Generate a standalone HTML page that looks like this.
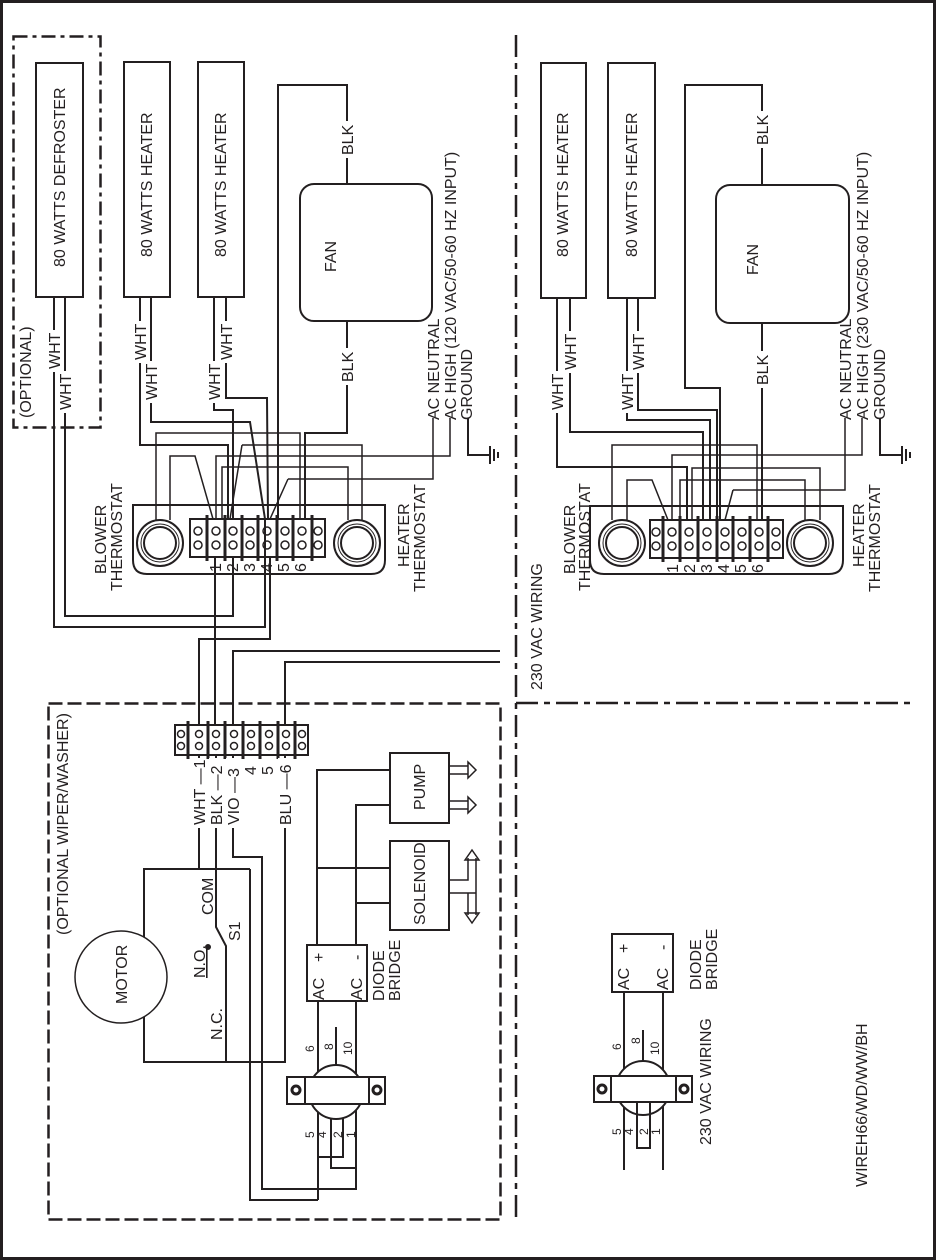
<!DOCTYPE html>
<html><head><meta charset="utf-8"><style>
html,body{margin:0;padding:0;background:#fff}
svg{display:block}
text{font-family:"Liberation Sans",Arial,sans-serif;fill:#231f20}
.l{font-size:16px}
.s{font-size:12px}
</style></head><body>
<svg width="936" height="1260" viewBox="0 0 936 1260" xmlns="http://www.w3.org/2000/svg">
<g fill="none" stroke="#231f20" stroke-width="2">
<rect x="1.5" y="1.5" width="933" height="1257" stroke-width="3"/>
<line x1="516" y1="35" x2="516" y2="1220" stroke-width="2.5" stroke-dasharray="22,6,6,6"/>
<line x1="516" y1="703" x2="914" y2="703" stroke-width="2.5" stroke-dasharray="22,6,6,6"/>
<rect x="13.5" y="36.5" width="87" height="391" stroke-width="2.5" stroke-dasharray="14,5,4,5"/>
<rect x="48.5" y="703.5" width="452" height="516" stroke-width="2.5" stroke-dasharray="14,5"/>

<rect x="36" y="63" width="47" height="234"/>
<rect x="124" y="62" width="46" height="235"/>
<rect x="198" y="62" width="46" height="235"/>
<rect x="300" y="184" width="132" height="137" rx="14"/>
<path d="M278 520 V85 H347 V184"/>
<path d="M347 321 V433 H305 V519"/>
<path d="M54 297 V627 H265 V519"/>
<path d="M65 297 V616 H233 V557"/>
<path d="M140 297 V445 H228 V519"/>
<path d="M151 297 V422 H250 L265 519"/>
<path d="M214 297 V410 H233 V519"/>
<path d="M226 297 V398 H267 L268 519"/>
<path d="M156 520 V433 H300 V519" stroke-width="1.5"/>
<path d="M170 520 V456 H195 L213 519" stroke-width="1.5"/>
<path d="M216 519 V456 H450 V418" stroke-width="1.5"/>
<path d="M242 445 H362 V520 M242 445 L230 519" stroke-width="1.5"/>
<path d="M222 519 V467 H348 V520" stroke-width="1.5"/>
<path d="M288 479 H433 V418 M288 479 L270 519" stroke-width="1.5"/>
<path d="M468 418 V455 H490 M490 446 V464 M494 449 V461 M498 452 V458"/>
<path d="M133 505 H385 V560 Q385 574 371 574 H147 Q133 574 133 560 Z"/>
<circle cx="160" cy="543" r="23"/><circle cx="160" cy="543" r="19" stroke-width="1"/><circle cx="160" cy="543" r="16"/>
<circle cx="357" cy="543" r="23"/><circle cx="357" cy="543" r="19" stroke-width="1"/><circle cx="357" cy="543" r="16"/>
<rect x="190" y="519" width="135" height="38"/>
<path d="M207 515 V561 M225 515 V561 M242 515 V561 M258 515 V561 M277 515 V561 M293 515 V561 M312 515 V561" stroke-width="3"/>
<g stroke-width="1.5"><circle cx="198" cy="531" r="4"/><circle cx="198" cy="545" r="4"/>
<circle cx="216" cy="531" r="4"/><circle cx="216" cy="545" r="4"/><circle cx="233" cy="531" r="4"/><circle cx="233" cy="545" r="4"/>
<circle cx="250" cy="531" r="4"/><circle cx="250" cy="545" r="4"/><circle cx="267" cy="531" r="4"/><circle cx="267" cy="545" r="4"/>
<circle cx="285" cy="531" r="4"/><circle cx="285" cy="545" r="4"/><circle cx="302" cy="531" r="4"/><circle cx="302" cy="545" r="4"/>
<circle cx="318" cy="531" r="4"/><circle cx="318" cy="545" r="4"/></g>
<path d="M215 557 V725"/>
<path d="M270 557 V639 H199 V725"/>
<path d="M500 651 H233 V725"/>
<path d="M500 662 H285 V725"/>

<rect x="541" y="63" width="45" height="235"/>
<rect x="608" y="63" width="47" height="235"/>
<rect x="716" y="185" width="133" height="138" rx="14"/>
<path d="M720 520 V388 H685 V85 H762 V185"/>
<path d="M762 323 V520"/>
<path d="M557 298 V467 H687 V520"/>
<path d="M570 298 V432 H703 V520"/>
<path d="M627 298 V420 H710 V520"/>
<path d="M638 298 V410 H717 V520"/>
<path d="M612 520 V445 H757 V520" stroke-width="1.5"/>
<path d="M627 520 V480 H652 L668 520" stroke-width="1.5"/>
<path d="M672 520 V455 H862 V418" stroke-width="1.5"/>
<path d="M692 520 V468 H820 V520" stroke-width="1.5"/>
<path d="M680 520 V480 H805 V520" stroke-width="1.5"/>
<path d="M733 490 H845 V418 M733 490 L725 520" stroke-width="1.5"/>
<path d="M880 418 V455 H902 M902 446 V464 M906 449 V461 M910 452 V458"/>
<path d="M590 506 H843 V560 Q843 574 829 574 H604 Q590 574 590 560 Z"/>
<circle cx="622" cy="543" r="23"/><circle cx="622" cy="543" r="19" stroke-width="1"/><circle cx="622" cy="543" r="16"/>
<circle cx="810" cy="543" r="23"/><circle cx="810" cy="543" r="19" stroke-width="1"/><circle cx="810" cy="543" r="16"/>
<rect x="650" y="520" width="133" height="38"/>
<path d="M663 516 V562 M680 516 V562 M698 516 V562 M717 516 V562 M733 516 V562 M750 516 V562 M768 516 V562" stroke-width="3"/>
<g stroke-width="1.5"><circle cx="656" cy="532" r="4"/><circle cx="656" cy="546" r="4"/>
<circle cx="672" cy="532" r="4"/><circle cx="672" cy="546" r="4"/><circle cx="689" cy="532" r="4"/><circle cx="689" cy="546" r="4"/>
<circle cx="707" cy="532" r="4"/><circle cx="707" cy="546" r="4"/><circle cx="725" cy="532" r="4"/><circle cx="725" cy="546" r="4"/>
<circle cx="742" cy="532" r="4"/><circle cx="742" cy="546" r="4"/><circle cx="759" cy="532" r="4"/><circle cx="759" cy="546" r="4"/>
<circle cx="776" cy="532" r="4"/><circle cx="776" cy="546" r="4"/></g>

<rect x="175" y="725" width="133" height="30"/>
<path d="M188 721 V759 M208 721 V759 M225 721 V759 M243 721 V759 M260 721 V759 M278 721 V759 M295 721 V759" stroke-width="3"/>
<g stroke-width="1.5"><circle cx="181" cy="734" r="3.5"/><circle cx="181" cy="746" r="3.5"/>
<circle cx="199" cy="734" r="3.5"/><circle cx="199" cy="746" r="3.5"/><circle cx="216" cy="734" r="3.5"/><circle cx="216" cy="746" r="3.5"/>
<circle cx="234" cy="734" r="3.5"/><circle cx="234" cy="746" r="3.5"/><circle cx="251" cy="734" r="3.5"/><circle cx="251" cy="746" r="3.5"/>
<circle cx="269" cy="734" r="3.5"/><circle cx="269" cy="746" r="3.5"/><circle cx="286" cy="734" r="3.5"/><circle cx="286" cy="746" r="3.5"/>
<circle cx="302" cy="734" r="3.5"/><circle cx="302" cy="746" r="3.5"/></g>
<path d="M199 755 V869 H144 V1062 H285 V755"/>
<path d="M199 869 H250"/>
<path d="M216 755 V927 L226 946 V1062" />
<circle cx="208" cy="947" r="2" fill="#231f20"/>
<path d="M233 755 V857 H262 V1189 H356 V1105"/>
<path d="M250 869 V1200 H318"/>
<path d="M318 1200 V1105"/>
<path d="M318 1105 V1157 H343 V1105"/>
<path d="M331 1105 V1168 H356"/>
<rect x="390" y="753" width="59" height="70"/>
<rect x="390" y="841" width="59" height="89"/>
<path d="M390 770 H317 V945 M317 868 H390"/>
<path d="M390 805 H356 V945 M356 903 H390"/>
<path d="M449 766 H468 M449 774 H468 M468 762 L476 770 L468 778 Z" stroke-width="1.5"/>
<path d="M449 801 H468 M449 809 H468 M468 797 L476 805 L468 813 Z" stroke-width="1.5"/>
<path d="M449 880 H468 V858 M449 893 H476 V858 M468 893 V915 M476 880 V915" stroke-width="1.5"/>
<path d="M465 860 L472 850 L479 860 Z M465 913 L472 923 L479 913 Z" stroke-width="1.5"/>
<circle cx="121" cy="977" r="46" fill="#fff" stroke-width="1.5"/>
<rect x="307" y="945" width="60" height="56"/>
<path d="M318 1001 V1075 M356 1001 V1075 M336 1027 V1068"/>
<circle cx="336" cy="1092" r="27" fill="#fff"/>
<rect x="287" y="1077" width="98" height="27" fill="#fff"/>
<path d="M305 1077 V1104 M369 1077 V1104"/>
<circle cx="296" cy="1090" r="4" stroke-width="3"/><circle cx="377" cy="1090" r="4" stroke-width="3"/>
<rect x="612" y="934" width="61" height="58"/>
<path d="M624 992 V1170 M663 992 V1170 M643 1030 V1070"/>
<circle cx="643" cy="1088" r="27" fill="#fff"/>
<rect x="594" y="1076" width="98" height="26" fill="#fff"/>
<path d="M611 1076 V1102 M676 1076 V1102"/>
<circle cx="602" cy="1089" r="4" stroke-width="3"/><circle cx="684" cy="1089" r="4" stroke-width="3"/>
<path d="M637 1102 V1148 H650 V1102"/>
</g>

<g fill="#fff">
<rect x="47" y="330" width="14" height="42"/>
<rect x="58" y="371" width="14" height="42"/>
<rect x="133" y="321" width="14" height="42"/>
<rect x="144" y="361" width="14" height="42"/>
<rect x="207" y="361" width="14" height="42"/>
<rect x="219" y="321" width="14" height="42"/>
<rect x="340" y="121" width="14" height="37"/>
<rect x="340" y="348" width="14" height="37"/>
<rect x="550" y="371" width="14" height="42"/>
<rect x="563" y="331" width="14" height="42"/>
<rect x="620" y="371" width="14" height="42"/>
<rect x="631" y="331" width="14" height="42"/>
<rect x="755" y="111" width="14" height="37"/>
<rect x="755" y="351" width="14" height="37"/>
<rect x="192" y="758" width="14" height="70"/>
<rect x="209" y="758" width="14" height="70"/>
<rect x="226" y="758" width="14" height="70"/>
<rect x="278" y="758" width="14" height="70"/>
</g>
<g>
<text class="l" transform="translate(65,267) rotate(-90)">80 WATTS DEFROSTER</text>
<text class="l" transform="translate(152,257) rotate(-90)">80 WATTS HEATER</text>
<text class="l" transform="translate(226,257) rotate(-90)">80 WATTS HEATER</text>
<text class="l" transform="translate(568,257) rotate(-90)">80 WATTS HEATER</text>
<text class="l" transform="translate(637,257) rotate(-90)">80 WATTS HEATER</text>
<text class="l" transform="translate(336,272) rotate(-90)">FAN</text>
<text class="l" transform="translate(758,275) rotate(-90)">FAN</text>
<text class="l" transform="translate(31,418) rotate(-90)">(OPTIONAL)</text>
<text class="l" transform="translate(60,369) rotate(-90)">WHT</text>
<text class="l" transform="translate(71,410) rotate(-90)">WHT</text>
<text class="l" transform="translate(146,360) rotate(-90)">WHT</text>
<text class="l" transform="translate(157,400) rotate(-90)">WHT</text>
<text class="l" transform="translate(220,400) rotate(-90)">WHT</text>
<text class="l" transform="translate(232,360) rotate(-90)">WHT</text>
<text class="l" transform="translate(353,155) rotate(-90)">BLK</text>
<text class="l" transform="translate(353,382) rotate(-90)">BLK</text>
<text class="l" transform="translate(563,410) rotate(-90)">WHT</text>
<text class="l" transform="translate(576,370) rotate(-90)">WHT</text>
<text class="l" transform="translate(633,410) rotate(-90)">WHT</text>
<text class="l" transform="translate(644,370) rotate(-90)">WHT</text>
<text class="l" transform="translate(768,145) rotate(-90)">BLK</text>
<text class="l" transform="translate(768,385) rotate(-90)">BLK</text>
<text class="l" transform="translate(439,420) rotate(-90)">AC NEUTRAL</text>
<text class="l" transform="translate(456,420) rotate(-90)">AC HIGH (120 VAC/50-60 HZ INPUT)</text>
<text class="l" transform="translate(472,420) rotate(-90)">GROUND</text>
<text class="l" transform="translate(851,420) rotate(-90)">AC NEUTRAL</text>
<text class="l" transform="translate(868,420) rotate(-90)">AC HIGH (230 VAC/50-60 HZ INPUT)</text>
<text class="l" transform="translate(885,420) rotate(-90)">GROUND</text>
<text class="l" transform="translate(106,574) rotate(-90)">BLOWER</text>
<text class="l" transform="translate(122,591) rotate(-90)">THERMOSTAT</text>
<text class="l" transform="translate(409,567) rotate(-90)">HEATER</text>
<text class="l" transform="translate(425,592) rotate(-90)">THERMOSTAT</text>
<text class="l" transform="translate(575,574) rotate(-90)">BLOWER</text>
<text class="l" transform="translate(590,591) rotate(-90)">THERMOSTAT</text>
<text class="l" transform="translate(864,567) rotate(-90)">HEATER</text>
<text class="l" transform="translate(880,592) rotate(-90)">THERMOSTAT</text>
<g class="l">
<text transform="translate(221,572) rotate(-90)">1</text><text transform="translate(238,572) rotate(-90)">2</text>
<text transform="translate(255,572) rotate(-90)">3</text><text transform="translate(272,572) rotate(-90)">4</text>
<text transform="translate(289,572) rotate(-90)">5</text><text transform="translate(306,572) rotate(-90)">6</text>
<text transform="translate(678,573) rotate(-90)">1</text><text transform="translate(695,573) rotate(-90)">2</text>
<text transform="translate(712,573) rotate(-90)">3</text><text transform="translate(729,573) rotate(-90)">4</text>
<text transform="translate(746,573) rotate(-90)">5</text><text transform="translate(763,573) rotate(-90)">6</text>
</g>
<text class="l" transform="translate(542,690) rotate(-90)">230 VAC WIRING</text>
<text class="l" transform="translate(68,935) rotate(-90)">(OPTIONAL WIPER/WASHER)</text>
<text class="l" transform="translate(205,825) rotate(-90)">WHT —1</text>
<text class="l" transform="translate(222,825) rotate(-90)">BLK —2</text>
<text class="l" transform="translate(239,825) rotate(-90)">VIO —3</text>
<text class="l" transform="translate(256,775) rotate(-90)">4</text>
<text class="l" transform="translate(273,775) rotate(-90)">5</text>
<text class="l" transform="translate(291,825) rotate(-90)">BLU —6</text>
<text class="l" transform="translate(425,810) rotate(-90)">PUMP</text>
<text class="l" transform="translate(425,925) rotate(-90)">SOLENOID</text>
<text class="l" transform="translate(127,1004) rotate(-90)">MOTOR</text>
<text class="l" transform="translate(213,915) rotate(-90)">COM</text>
<text class="l" transform="translate(240,941) rotate(-90)">S1</text>
<text class="l" transform="translate(205,978) rotate(-90)" text-decoration="underline">N.O.</text>
<text class="l" transform="translate(222,1040) rotate(-90)">N.C.</text>
<text class="l" transform="translate(324,1000) rotate(-90)">AC</text>
<text class="l" transform="translate(324,962) rotate(-90)">+</text>
<text class="l" transform="translate(362,1000) rotate(-90)">AC</text>
<text class="l" transform="translate(362,960) rotate(-90)">-</text>
<text class="l" transform="translate(384,1001) rotate(-90)">DIODE</text>
<text class="l" transform="translate(400,1001) rotate(-90)">BRIDGE</text>
<text class="s" transform="translate(314,1052) rotate(-90)">6</text>
<text class="s" transform="translate(333,1050) rotate(-90)">8</text>
<text class="s" transform="translate(352,1055) rotate(-90)">10</text>
<text class="s" transform="translate(314,1138) rotate(-90)">5</text>
<text class="s" transform="translate(326,1138) rotate(-90)">4</text>
<text class="s" transform="translate(342,1138) rotate(-90)">2</text>
<text class="s" transform="translate(355,1138) rotate(-90)">1</text>
<text class="l" transform="translate(629,990) rotate(-90)">AC</text>
<text class="l" transform="translate(629,953) rotate(-90)">+</text>
<text class="l" transform="translate(668,990) rotate(-90)">AC</text>
<text class="l" transform="translate(668,950) rotate(-90)">-</text>
<text class="l" transform="translate(701,990) rotate(-90)">DIODE</text>
<text class="l" transform="translate(717,990) rotate(-90)">BRIDGE</text>
<text class="s" transform="translate(621,1050) rotate(-90)">6</text>
<text class="s" transform="translate(640,1044) rotate(-90)">8</text>
<text class="s" transform="translate(659,1055) rotate(-90)">10</text>
<text class="s" transform="translate(621,1135) rotate(-90)">5</text>
<text class="s" transform="translate(633,1135) rotate(-90)">4</text>
<text class="s" transform="translate(648,1135) rotate(-90)">2</text>
<text class="s" transform="translate(660,1135) rotate(-90)">1</text>
<text class="l" transform="translate(711,1145) rotate(-90)">230 VAC WIRING</text>
<text class="l" transform="translate(867,1187) rotate(-90)">WIREH66/WD/WW/BH</text>
</g>
</svg>
</body></html>
